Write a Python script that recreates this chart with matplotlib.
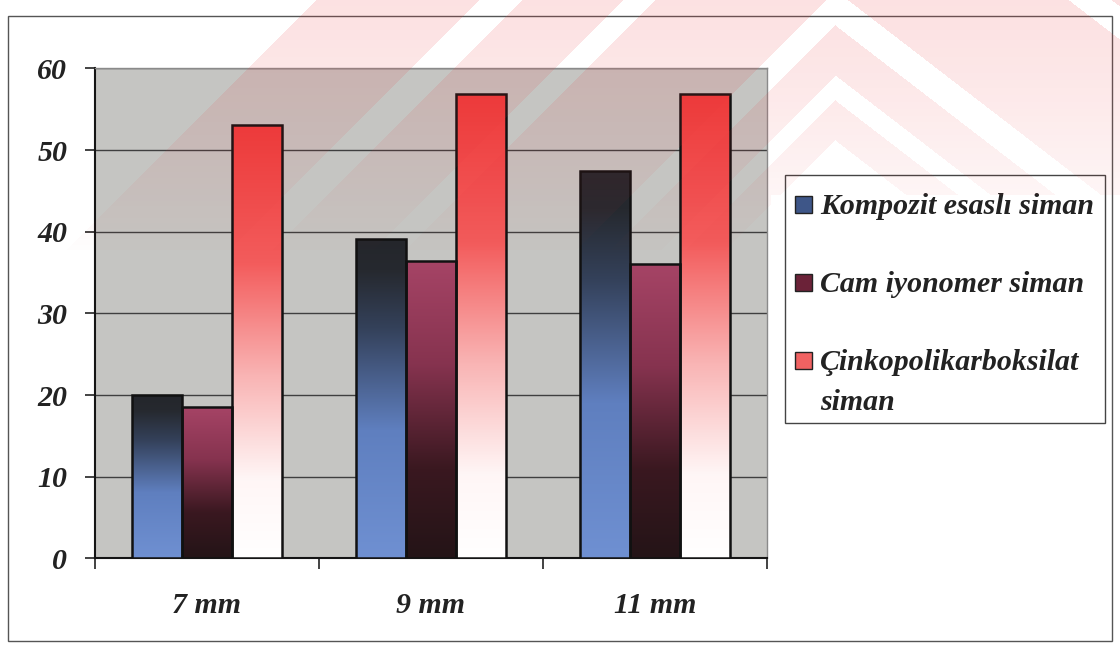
import numpy as np
import matplotlib
matplotlib.use("Agg")
import matplotlib.pyplot as plt
from matplotlib.colors import LinearSegmentedColormap
from matplotlib.patches import Rectangle

# --- data ---
categories = ["7 mm", "9 mm", "11 mm"]
series_names = ["Kompozit esaslı siman", "Cam iyonomer siman", "Çinkopolikarboksilat\nsiman"]
kompozit = [20.0, 39.1, 47.4]
cam_iyonomer = [18.6, 36.4, 36.1]
cinko = [53.1, 56.8, 56.8]
y_ticks = [0, 10, 20, 30, 40, 50, 60]

plt.rcParams['font.family'] = ['Liberation Serif', 'DejaVu Serif']
font = dict(fontsize=21.5, fontweight='bold', fontstyle='italic', color='#222222')

# bottom -> top colour ramps for each series
ramps = [
    LinearSegmentedColormap.from_list("komp", [(0, "#6f90d2"), (0.4, "#5f7fbf"), (0.72, "#34415a"), (0.9, "#26292f"), (1, "#24262b")]),
    LinearSegmentedColormap.from_list("cam", [(0, "#241417"), (0.3, "#3a1820"), (0.65, "#86334f"), (1, "#a64466")]),
    LinearSegmentedColormap.from_list("cinko", [(0, "#ffffff"), (0.18, "#fff6f6"), (0.42, "#f9b4b4"), (0.68, "#f35c5c"), (1, "#ee3b3b")]),
]
legend_colors = ["#3e5688", "#6b2238", "#f06262"]

W, H = 1120, 657
fig = plt.figure(figsize=(W / 100, H / 100), dpi=100)
ax = fig.add_axes([0.0848, 0.150, 0.600, 0.746])
ax.set_facecolor("#c5c5c2")

x = np.arange(len(categories))
width = 1 / 4.5
grad = np.linspace(0, 1, 256).reshape(-1, 1)
for i, values in enumerate([kompozit, cam_iyonomer, cinko]):
    bars = ax.bar(x + (i - 1) * width, values, width, facecolor='none',
                  edgecolor='#111111', linewidth=1.8, zorder=4)
    for bar in bars:
        x0, h = bar.get_x(), bar.get_height()
        im = ax.imshow(grad, extent=[x0, x0 + width, 0, h], origin='lower',
                       aspect='auto', cmap=ramps[i], zorder=3)
        im.set_clip_path(bar)

ax.set_xlim(-0.5, len(categories) - 0.5)
ax.set_ylim(0, 60)
ax.set_yticks(y_ticks)
ax.set_yticklabels([str(t) for t in y_ticks], **font)
ax.yaxis.grid(True, color='#3f3f3f', linewidth=1.0)
ax.set_axisbelow(True)

# category boundaries carry the ticks, names sit in between
ax.set_xticks(np.arange(len(categories) + 1) - 0.5)
ax.set_xticklabels([])
ax.set_xticks(x, minor=True)
ax.set_xticklabels(categories, minor=True, **font)
ax.tick_params(axis='x', which='major', length=8, width=1.2, color='#222222', direction='out')
ax.tick_params(axis='x', which='minor', length=0, pad=24)
ax.tick_params(axis='y', length=7, width=1.2, color='#222222', pad=13)

for side in ['top', 'right']:
    ax.spines[side].set_color('#8a8a8a')
    ax.spines[side].set_linewidth(1.0)
for side in ['left', 'bottom']:
    ax.spines[side].set_color('#151515')
    ax.spines[side].set_linewidth(1.5)

# legend box, laid out in figure pixels
def fx(px):
    return px / W

def fy(py):
    return 1 - py / H

fig.patches.append(Rectangle((fx(785), fy(423)), fx(1105) - fx(785), fy(175) - fy(423),
                             transform=fig.transFigure, facecolor='white',
                             edgecolor='#444444', linewidth=1.0, zorder=5))
row_y = [205, 283, 361]
for name, color, ry in zip(series_names, legend_colors, row_y):
    fig.patches.append(Rectangle((fx(795), fy(ry + 8)), fx(17), 17 / H,
                                 transform=fig.transFigure, facecolor=color,
                                 edgecolor='#222222', linewidth=1.0, zorder=6))
    fig.text(fx(820), fy(ry - 12), name, ha='left', va='top',
             linespacing=1.6, zorder=6, **font)

# outer chart frame
fig.patches.append(Rectangle((0.007, 0.025), 0.986, 0.95, transform=fig.transFigure,
                             fill=False, edgecolor='#555555', linewidth=1.0))

# faint chevron watermark printed across the top of the page
yy, xx = np.mgrid[0:H, 0:W].astype(float)
apex_x = 835
g = np.where(xx < apex_x, yy - (apex_x - xx), yy - 0.77 * (xx - apex_x))
pink = (g > -520) & (g < 140)
for lo, hi in [(-357, -313), (-213, -180), (-10, 25), (75, 100)]:
    pink &= ~((g > lo) & (g < hi))
pink &= np.where(xx > 770, yy < 195, yy < 250)
alpha = np.clip(0.15 * (1 - (yy / 260.0) ** 1.3), 0, 1) * pink
wm = np.zeros((H, W, 4))
wm[..., 0] = 0.93
wm[..., 1] = 0.22
wm[..., 2] = 0.24
wm[..., 3] = alpha
fig.figimage(wm, xo=0, yo=0, origin='upper', zorder=10)

fig.savefig("out.png", dpi=100)
